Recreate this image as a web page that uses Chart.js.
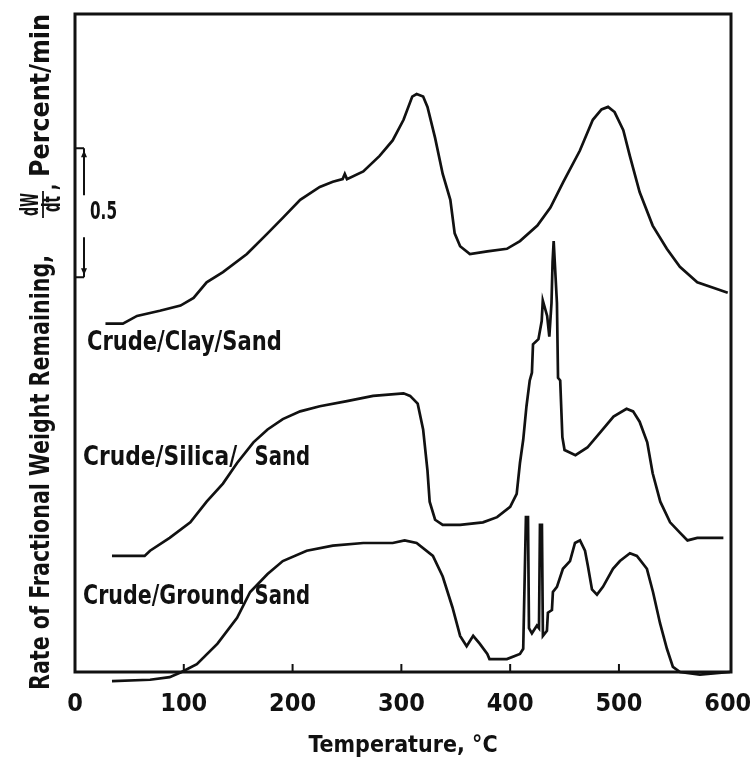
<!DOCTYPE html>
<html>
<head>
<meta charset="utf-8">
<script src="https://cdn.jsdelivr.net/npm/chart.js@4.4.1/dist/chart.umd.min.js"></script>
<style>
  html, body { margin: 0; padding: 0; background: #fff; }
</style>
</head>
<body>
<canvas id="tga" width="750" height="763"></canvas>
<script>
// temperature (°C), rate (arbitrary offset, percent/min)
const clayPoints = [
  [28,1.35],[44,1.35],[57,1.38],[78,1.40],[97,1.42],[109,1.45],[121,1.51],[136,1.55],[158,1.62],
  [177,1.70],[191,1.76],[207,1.83],[225,1.88],[237,1.90],[246,1.91],[248,1.93],[250,1.91],[265,1.94],
  [280,2.00],[292,2.06],[302,2.14],[310,2.23],[314,2.24],[320,2.23],[324,2.19],[331,2.07],[338,1.93],
  [345,1.83],[349,1.70],[354,1.65],[363,1.62],[379,1.63],[397,1.64],[409,1.67],[425,1.73],[437,1.80],
  [449,1.90],[464,2.02],[476,2.14],[484,2.18],[490,2.19],[496,2.17],[504,2.10],[510,2.00],[519,1.86],
  [531,1.73],[544,1.64],[556,1.57],[572,1.51],[586,1.49],[600,1.47]
];
const silicaPoints = [
  [34,0.45],[64,0.45],[69,0.47],[87,0.52],[106,0.58],[121,0.66],[136,0.73],[149,0.81],[164,0.89],
  [177,0.94],[191,0.98],[207,1.01],[225,1.03],[250,1.05],[274,1.07],[302,1.08],[308,1.07],[315,1.04],
  [320,0.94],[324,0.78],[326,0.66],[331,0.59],[338,0.57],[354,0.57],[375,0.58],[388,0.60],[400,0.64],
  [406,0.69],[409,0.81],[412,0.90],[415,1.03],[418,1.13],[420,1.16],[421,1.27],[426,1.29],[429,1.36],
  [430,1.44],[434,1.38],[436,1.30],[438,1.43],[439,1.59],[440,1.67],[441,1.59],[443,1.43],[444,1.14],
  [446,1.13],[448,0.91],[450,0.86],[460,0.84],[471,0.87],[483,0.93],[495,0.99],[507,1.02],[513,1.01],
  [519,0.97],[526,0.89],[531,0.77],[538,0.66],[547,0.58],[556,0.54],[563,0.51],[572,0.52],[596,0.52]
];
const groundPoints = [
  [34,-0.035],[69,-0.03],[87,-0.02],[98,0],[112,0.03],[131,0.11],[149,0.21],[161,0.31],[177,0.38],
  [191,0.43],[213,0.47],[237,0.49],[265,0.50],[292,0.50],[303,0.51],[314,0.50],[329,0.45],[338,0.37],
  [347,0.25],[354,0.14],[360,0.10],[366,0.14],[372,0.11],[379,0.07],[381,0.05],[397,0.05],[409,0.07],
  [412,0.09],[414.5,0.60],[416.4,0.60],[417.3,0.17],[420,0.15],[424.6,0.18],[426.5,0.17],[427.4,0.57],
  [429.2,0.57],[430.1,0.14],[433.8,0.16],[434.7,0.23],[438.4,0.24],[439.3,0.31],[443,0.33],[448.5,0.40],
  [455,0.43],[459.6,0.50],[464.2,0.51],[468.8,0.47],[471.5,0.41],[475.2,0.32],[479.8,0.30],[485.3,0.33],
  [494.5,0.40],[500.9,0.43],[510.1,0.46],[516.5,0.45],[525.7,0.40],[531.3,0.31],[537.7,0.19],[544.1,0.09],
  [549.6,0.02],[556.1,0],[574.4,-0.01],[602,0]
];
const xTickValues = [0, 100, 200, 300, 400, 500, 600];
const innerTickValues = [100, 200, 300, 400, 500];
const scaleBar = { top: 2.03, span: 0.5, label: '0.5' };
const yTitleParts = ['Rate of Fractional Weight Remaining,', 'dW', 'dt', ',', 'Percent/min'];

const FONT = '"Liberation Sans Narrow", "DejaVu Sans Condensed", "Arial Narrow", sans-serif';
const INK = '#111';

// draw text squeezed into [x1, x2]
function fitText(ctx, text, x1, x2, yc, size) {
  ctx.save();
  ctx.font = 'bold ' + size + 'px ' + FONT;
  const w = ctx.measureText(text).width;
  ctx.translate(x1, yc);
  ctx.scale((x2 - x1) / w, 1);
  ctx.textBaseline = 'middle';
  ctx.textAlign = 'left';
  ctx.fillStyle = INK;
  ctx.fillText(text, 0, 0);
  ctx.restore();
}

const annotations = {
  id: 'annotations',
  afterDatasetsDraw(chart) {
    const ctx = chart.ctx;
    const a = chart.chartArea;
    const x = chart.scales.x, y = chart.scales.y;

    // frame
    ctx.save();
    ctx.strokeStyle = INK;
    ctx.lineWidth = 3;
    ctx.strokeRect(a.left, a.top, a.right - a.left, a.bottom - a.top);

    // inward ticks
    ctx.lineWidth = 2;
    innerTickValues.forEach(v => {
      const px = x.getPixelForValue(v);
      ctx.beginPath();
      ctx.moveTo(px, a.bottom);
      ctx.lineTo(px, a.bottom - 8);
      ctx.stroke();
    });

    // 0.5 scale bar
    const yT = y.getPixelForValue(scaleBar.top);
    const yB = y.getPixelForValue(scaleBar.top - scaleBar.span);
    const bx = a.left + 9;
    ctx.lineWidth = 2;
    ctx.beginPath();
    ctx.moveTo(a.left, yT); ctx.lineTo(bx, yT);
    ctx.moveTo(bx, yT); ctx.lineTo(bx, yT + 47);
    ctx.moveTo(bx, yB - 40); ctx.lineTo(bx, yB);
    ctx.moveTo(a.left, yB); ctx.lineTo(bx, yB);
    ctx.stroke();
    ctx.fillStyle = INK;
    ctx.beginPath();
    ctx.moveTo(bx - 3, yT + 9); ctx.lineTo(bx, yT + 2); ctx.lineTo(bx + 3, yT + 9);
    ctx.moveTo(bx - 3, yB - 9); ctx.lineTo(bx, yB - 2); ctx.lineTo(bx + 3, yB - 9);
    ctx.fill();
    fitText(ctx, scaleBar.label, bx + 6, bx + 33, (yT + yB) / 2, 25);
    ctx.restore();

    // curve labels
    const X = v => x.getPixelForValue(v), Y = v => y.getPixelForValue(v);
    fitText(ctx, 'Crude/Clay/Sand', X(11), X(190), Y(1.275), 27);
    fitText(ctx, 'Crude/Silica/', X(7.4), X(149), Y(0.829), 27);
    fitText(ctx, 'Sand', X(165), X(216), Y(0.829), 27);
    fitText(ctx, 'Crude/Ground', X(7.4), X(156), Y(0.291), 27);
    fitText(ctx, 'Sand', X(165), X(216), Y(0.291), 27);

    // rotated y title with dW/dt fraction
    ctx.save();
    ctx.translate(42, 690);
    ctx.rotate(-Math.PI / 2);
    fitText(ctx, yTitleParts[0], 0, 435, 0, 26);
    fitText(ctx, yTitleParts[1], 474, 497, -10, 24);
    fitText(ctx, yTitleParts[2], 478, 494, 12, 24);
    ctx.strokeStyle = INK;
    ctx.lineWidth = 1.8;
    ctx.beginPath();
    ctx.moveTo(472, 1); ctx.lineTo(499, 1);
    ctx.stroke();
    fitText(ctx, yTitleParts[3], 500, 506, 8, 24);
    fitText(ctx, yTitleParts[4], 513, 676, 0, 26);
    ctx.restore();
  }
};

const lineStyle = {
  borderColor: INK,
  borderWidth: 2.7,
  pointRadius: 0,
  tension: 0,
  fill: false,
  clip: false
};

new Chart(document.getElementById('tga'), {
  type: 'line',
  data: {
    datasets: [
      Object.assign({ label: 'Crude/Clay/Sand', data: clayPoints.map(p => ({ x: p[0], y: p[1] })) }, lineStyle),
      Object.assign({ label: 'Crude/Silica/Sand', data: silicaPoints.map(p => ({ x: p[0], y: p[1] })) }, lineStyle),
      Object.assign({ label: 'Crude/Ground Sand', data: groundPoints.map(p => ({ x: p[0], y: p[1] })) }, lineStyle)
    ]
  },
  options: {
    responsive: false,
    animation: false,
    events: [],
    layout: { padding: { left: 75, right: 19, top: 14, bottom: 0 } },
    plugins: { legend: { display: false }, tooltip: { enabled: false } },
    scales: {
      x: {
        type: 'linear',
        min: 0,
        max: 603,
        afterBuildTicks: s => { s.ticks = xTickValues.map(v => ({ value: v })); },
        afterFit: s => { s.height = 91; s.paddingLeft = 0; s.paddingRight = 0; },
        grid: { display: false, drawTicks: false },
        border: { display: false },
        ticks: {
          color: INK,
          padding: 17,
          maxRotation: 0,
          font: { family: FONT, size: 25, weight: 'bold' }
        },
        title: {
          display: true,
          text: 'Temperature, °C',
          color: INK,
          padding: { top: 6, bottom: 3 },
          font: { family: FONT, size: 23, weight: 'bold' }
        }
      },
      y: {
        display: false,
        min: 0,
        max: 2.55
      }
    }
  },
  plugins: [annotations]
});
</script>
</body>
</html>
